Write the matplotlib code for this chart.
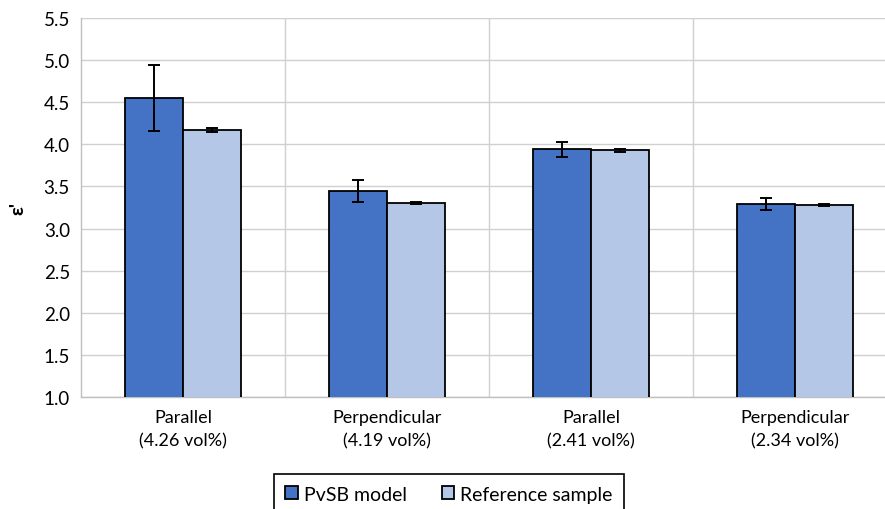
import matplotlib
matplotlib.use("Agg")
import matplotlib.pyplot as plt
import numpy as np

categories = ["Parallel\n(4.26 vol%)", "Perpendicular\n(4.19 vol%)",
              "Parallel\n(2.41 vol%)", "Perpendicular\n(2.34 vol%)"]
pvsb_values = [4.55, 3.45, 3.94, 3.29]
pvsb_errors = [0.39, 0.13, 0.09, 0.07]
ref_values = [4.17, 3.30, 3.93, 3.28]
ref_errors = [0.02, 0.01, 0.02, 0.01]
series_names = ["PvSB model", "Reference sample"]
y_ticks = [1.0, 1.5, 2.0, 2.5, 3.0, 3.5, 4.0, 4.5, 5.0, 5.5]

plt.rcParams['font.family'] = ['Lato', 'DejaVu Sans']

fig = plt.figure(figsize=(8.85, 5.10), dpi=100)
ax = fig.add_axes([81/885, 112/510, 816/885, 379/510])

x = np.arange(len(categories))
w = 0.285
err_kw = dict(ecolor='black', elinewidth=1.4, capsize=4, capthick=1.4)
ax.bar(x - w/2, pvsb_values, w, color='#4472C4', edgecolor='black',
       linewidth=1.3, yerr=pvsb_errors, error_kw=err_kw, label=series_names[0], zorder=3)
ax.bar(x + w/2, ref_values, w, color='#B4C7E7', edgecolor='black',
       linewidth=1.3, yerr=ref_errors, error_kw=err_kw, label=series_names[1], zorder=3)

ax.set_xlim(-0.5, len(categories) - 0.5)
ax.set_ylim(1.0, 5.5)
ax.set_yticks(y_ticks)
ax.set_yticklabels([f"{t:.1f}" for t in y_ticks], fontsize=13.5)
ax.set_xticks(x)
ax.set_xticklabels(categories, fontsize=13, linespacing=1.5)
ax.set_xticks(np.arange(0.5, len(categories) - 0.5, 1.0), minor=True)
ax.tick_params(axis='both', which='both', length=0)
ax.tick_params(axis='x', pad=9)
ax.tick_params(axis='y', pad=8)

ax.grid(axis='y', which='major', color='#D0D0D0', linewidth=1.0, zorder=0)
ax.grid(axis='x', which='minor', color='#D0D0D0', linewidth=1.0, zorder=0)
for side in ['top', 'right']:
    ax.spines[side].set_visible(False)
for side in ['left', 'bottom']:
    ax.spines[side].set_color('#BFBFBF')
    ax.spines[side].set_linewidth(1.0)

ax.set_ylabel("ε'", fontsize=14, fontweight='bold', labelpad=12)

leg = fig.legend(loc='upper center', bbox_to_anchor=(449/885, 1 - 475/510),
                 ncol=2, fontsize=14, frameon=True, fancybox=False,
                 edgecolor='black', framealpha=1.0, handlelength=0.65,
                 handleheight=0.65, handletextpad=0.3, columnspacing=1.8,
                 borderpad=0.6, borderaxespad=0)
leg.get_frame().set_linewidth(1.2)

fig.savefig("out.png", dpi=100)
